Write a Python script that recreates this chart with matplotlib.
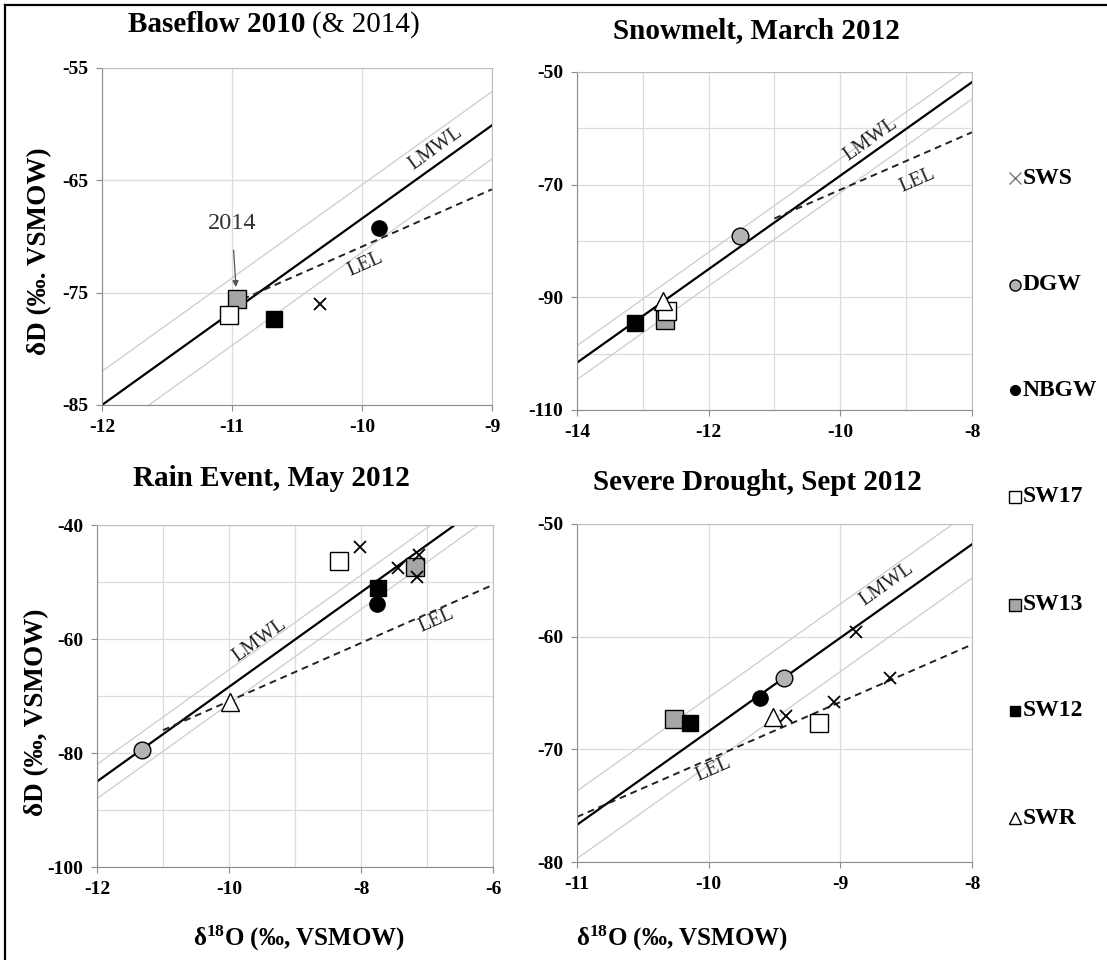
import matplotlib
matplotlib.use('Agg')
import matplotlib.pyplot as plt
import numpy as np

plt.rcParams['font.family'] = ['Liberation Serif', 'DejaVu Serif']
plt.rcParams['font.weight'] = 'bold'
plt.rcParams['mathtext.fontset'] = 'custom'
plt.rcParams['mathtext.rm'] = 'Liberation Serif:bold'
plt.rcParams['mathtext.bf'] = 'Liberation Serif:bold'
plt.rcParams['mathtext.it'] = 'Liberation Serif:bold'
plt.rcParams['mathtext.default'] = 'bf'

W, H = 1107, 960

# Local meteoric water line and local evaporation line
LMWL_SLOPE, LMWL_INT = 8.3, 14.6
LMWL_BAND = 3.0
LEL_SLOPE, LEL_INT = 5.1, -19.9
LEL_START = -11.0

# --- data (d18O, dD) per panel ---
# Baseflow 2010 (& 2014)
p1_sws = ([-10.32], [-76.0])
p1_dgw = ([], [])
p1_nbgw = ([-9.87], [-69.2])
p1_sw17 = ([-11.02], [-77.0])
p1_sw13 = ([-10.96], [-75.6])
p1_sw12 = ([-10.68], [-77.3])
p1_swr = ([], [])

# Snowmelt, March 2012
p2_sws = ([], [])
p2_dgw = ([-11.52], [-79.2])
p2_nbgw = ([], [])
p2_sw17 = ([-12.64], [-92.4])
p2_sw13 = ([-12.66], [-94.0])
p2_sw12 = ([-13.12], [-94.6])
p2_swr = ([-12.7], [-90.6])

# Rain Event, May 2012
p3_sws = ([-8.02, -7.44, -7.12, -7.15], [-43.8, -47.6, -45.2, -49.2])
p3_dgw = ([-11.32], [-79.5])
p3_nbgw = ([-7.76], [-53.8])
p3_sw17 = ([-8.33], [-46.4])
p3_sw13 = ([-7.18], [-47.3])
p3_sw12 = ([-7.75], [-51.1])
p3_swr = ([-9.99], [-71.0])

# Severe Drought, Sept 2012
p4_sws = ([-8.88, -8.62, -9.05, -9.41], [-59.6, -63.7, -65.8, -67.0])
p4_dgw = ([-9.43], [-63.7])
p4_nbgw = ([-9.61], [-65.4])
p4_sw17 = ([-9.16], [-67.7])
p4_sw13 = ([-10.26], [-67.3])
p4_sw12 = ([-10.14], [-67.7])
p4_swr = ([-9.51], [-67.1])

titles = ['Baseflow 2010', 'Snowmelt, March 2012', 'Rain Event, May 2012', 'Severe Drought, Sept 2012']
series_names = ['SWS', 'DGW', 'NBGW', 'SW17', 'SW13', 'SW12', 'SWR']

styles = {
    'SW13': dict(marker='s', mfc='#a6a6a6', mec='black', ms=13, mew=1.0),
    'SW12': dict(marker='s', mfc='black', mec='black', ms=12, mew=1.0),
    'SW17': dict(marker='s', mfc='white', mec='black', ms=13, mew=1.0),
    'DGW': dict(marker='o', mfc='#b3b3b3', mec='black', ms=12, mew=1.0),
    'NBGW': dict(marker='o', mfc='black', mec='black', ms=11, mew=1.0),
    'SWR': dict(marker='^', mfc='white', mec='black', ms=13, mew=1.0),
    'SWS': dict(marker='x', mfc='none', mec='black', ms=8, mew=1.3),
}
draw_order = ['SW13', 'SW12', 'SW17', 'DGW', 'NBGW', 'SWR', 'SWS']

panels = [
    dict(data=dict(SWS=p1_sws, DGW=p1_dgw, NBGW=p1_nbgw, SW17=p1_sw17, SW13=p1_sw13, SW12=p1_sw12, SWR=p1_swr),
         box=(102, 68, 492, 405), xlim=(-12, -9), ylim=(-85, -55),
         xmaj=[-12, -11, -10, -9], ymaj=[-85, -75, -65, -55], xmin=None, ymin=None,
         lmwl_lab=(-9.43, -62.2), lel_lab=(-9.97, -72.5)),
    dict(data=dict(SWS=p2_sws, DGW=p2_dgw, NBGW=p2_nbgw, SW17=p2_sw17, SW13=p2_sw13, SW12=p2_sw12, SWR=p2_swr),
         box=(577, 72, 972, 410), xlim=(-14, -8), ylim=(-110, -50),
         xmaj=[-14, -12, -10, -8], ymaj=[-110, -90, -70, -50],
         xmin=np.arange(-14, -7), ymin=np.arange(-110, -49, 10),
         lmwl_lab=(-9.54, -62.0), lel_lab=(-8.83, -69.3)),
    dict(data=dict(SWS=p3_sws, DGW=p3_dgw, NBGW=p3_nbgw, SW17=p3_sw17, SW13=p3_sw13, SW12=p3_sw12, SWR=p3_swr),
         box=(97, 525, 493, 867), xlim=(-12, -6), ylim=(-100, -40),
         xmaj=[-12, -10, -8, -6], ymaj=[-100, -80, -60, -40],
         xmin=np.arange(-12, -5), ymin=np.arange(-100, -39, 10),
         lmwl_lab=(-9.53, -60.3), lel_lab=(-6.86, -56.8)),
    dict(data=dict(SWS=p4_sws, DGW=p4_dgw, NBGW=p4_nbgw, SW17=p4_sw17, SW13=p4_sw13, SW12=p4_sw12, SWR=p4_swr),
         box=(577, 524, 972, 862), xlim=(-11, -8), ylim=(-80, -50),
         xmaj=[-11, -10, -9, -8], ymaj=[-80, -70, -60, -50], xmin=None, ymin=None,
         lmwl_lab=(-8.65, -55.4), lel_lab=(-9.96, -71.8)),
]

fig = plt.figure(figsize=(W / 100, H / 100), dpi=100)


def fx(px):
    return px / W


def fy(py):
    return 1 - py / H


for i, p in enumerate(panels):
    x0, y0, x1, y1 = p['box']
    ax = fig.add_axes([fx(x0), fy(y1), fx(x1) - fx(x0), fy(y0) - fy(y1)])
    ax.set_xlim(*p['xlim'])
    ax.set_ylim(*p['ylim'])
    ax.set_xticks(p['xmaj'])
    ax.set_yticks(p['ymaj'])
    ax.set_xticklabels([str(v) for v in p['xmaj']])
    ax.set_yticklabels([str(v) for v in p['ymaj']])
    if p['xmin'] is not None:
        ax.set_xticks(p['xmin'], minor=True)
        ax.set_yticks(p['ymin'], minor=True)
        ax.grid(True, which='minor', color='#dcdcdc', lw=0.9)
    ax.grid(True, which='major', color='#dcdcdc', lw=0.9)
    ax.set_axisbelow(True)
    ax.tick_params(which='major', direction='out', length=4, width=0.8, color='#8c8c8c',
                   labelsize=14, pad=6)
    ax.tick_params(which='minor', length=0)
    for side in ['left', 'bottom']:
        ax.spines[side].set_color('#8c8c8c')
    for side in ['top', 'right']:
        ax.spines[side].set_color('#bdbdbd')

    # LMWL with its band
    ax.axline((0, LMWL_INT), slope=LMWL_SLOPE, color='black', lw=1.6, zorder=2)
    ax.axline((0, LMWL_INT + LMWL_BAND), slope=LMWL_SLOPE, color='#cccccc', lw=0.9, zorder=1.5)
    ax.axline((0, LMWL_INT - LMWL_BAND), slope=LMWL_SLOPE, color='#cccccc', lw=0.9, zorder=1.5)
    # LEL
    xe = np.array([LEL_START, p['xlim'][1]])
    ax.plot(xe, LEL_SLOPE * xe + LEL_INT, color='#222222', lw=1.4, ls=(0, (3.5, 2.5)), zorder=2)

    ang_l = np.degrees(np.arctan(LMWL_SLOPE))
    ang_e = np.degrees(np.arctan(LEL_SLOPE))
    ax.text(*p['lmwl_lab'], 'LMWL', rotation=ang_l, transform_rotates_text=True,
            rotation_mode='anchor', ha='center', va='center', fontsize=14.5, fontweight='normal',
            color='#222222', zorder=3)
    ax.text(*p['lel_lab'], 'LEL', rotation=ang_e, transform_rotates_text=True,
            rotation_mode='anchor', ha='center', va='center', fontsize=14.5, fontweight='normal',
            color='#222222', zorder=3)

    for k, name in enumerate(draw_order):
        xs, ys = p['data'][name]
        if len(xs):
            ax.plot(xs, ys, ls='none', zorder=4 + k, **styles[name])

    if i == 0:
        ax.annotate('2014', xy=(-10.97, -74.5), xytext=(-11.0, -68.8),
                    ha='center', va='center', fontsize=17.5, fontweight='normal', color='#333333',
                    arrowprops=dict(arrowstyle='-|>', color='#555555', lw=0.9,
                                    mutation_scale=9, shrinkA=10, shrinkB=0), zorder=10)

# titles
fig.text(fx(305), fy(25), 'Baseflow 2010', ha='right', va='center', fontsize=21, fontweight='bold')
fig.text(fx(312), fy(25), '(& 2014)', ha='left', va='center', fontsize=21, fontweight='normal')
fig.text(fx(756), fy(31), titles[1], ha='center', va='center', fontsize=21, fontweight='bold')
fig.text(fx(271), fy(478), titles[2], ha='center', va='center', fontsize=21, fontweight='bold')
fig.text(fx(757), fy(482), titles[3], ha='center', va='center', fontsize=21, fontweight='bold')

# axis labels
fig.text(fx(40), fy(251), 'δD (‰. VSMOW)', rotation=90, ha='center', va='center', fontsize=19.5)
fig.text(fx(37), fy(712), 'δD (‰, VSMOW)', rotation=90, ha='center', va='center', fontsize=19.5)
fig.text(fx(299), fy(938), r'$δ^{18}$O (‰, VSMOW)', ha='center', va='center', fontsize=18)
fig.text(fx(682), fy(938), r'$δ^{18}$O (‰, VSMOW)', ha='center', va='center', fontsize=18)

# legend and frame on an overlay
ov = fig.add_axes([0, 0, 1, 1], facecolor='none')
ov.set_xlim(0, W)
ov.set_ylim(H, 0)
ov.axis('off')
leg_y = [178, 285, 390, 497, 605, 711, 818]
leg_sizes = {'SWS': 8, 'DGW': 8, 'NBGW': 7, 'SW17': 8, 'SW13': 8, 'SW12': 7, 'SWR': 8}
for name, yy in zip(series_names, leg_y):
    st = dict(styles[name])
    st['ms'] = leg_sizes[name]
    if name == 'SWS':
        st['mec'] = '#777777'
        st['mew'] = 1.0
    ov.plot([1015], [yy], ls='none', **st)
    ov.text(1023, yy, name, ha='left', va='center', fontsize=17, fontweight='bold')
ov.plot([5, W], [4.5, 4.5], color='black', lw=1.6)
ov.plot([5, 5], [4.5, H], color='black', lw=1.6)

fig.savefig('out.png', dpi=100)
